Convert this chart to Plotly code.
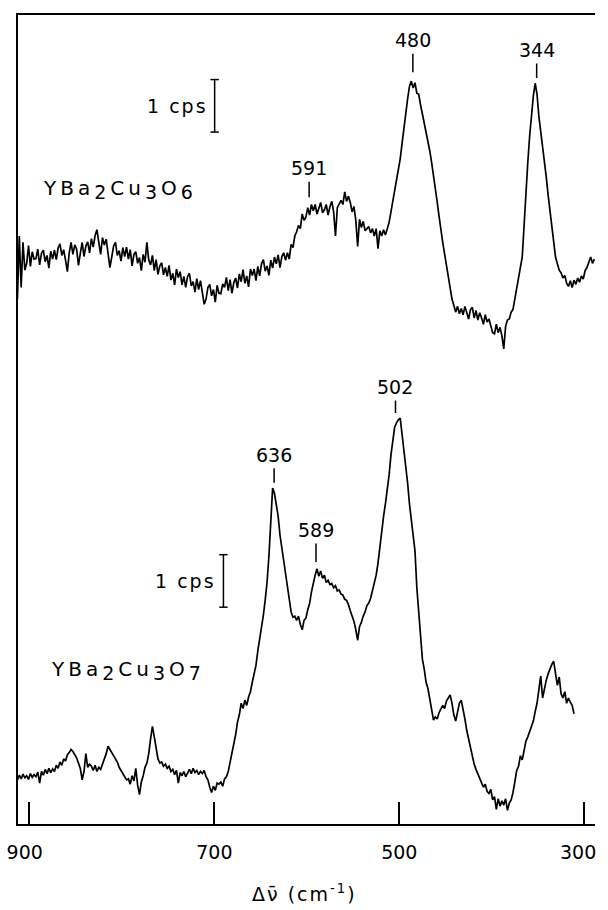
import plotly.graph_objects as go

# Raman spectra, intensity in cps, sampled every 2 cm-1 starting at 913 cm-1 (decreasing)
wavenumber_start = 913
wavenumber_step = -2

ybco6_cps = [
    1.50, 2.70, 1.72, 2.58, 2.05, 2.18, 2.52, 2.12, 2.40, 2.26,
    2.27, 2.45, 2.15, 2.37, 2.43, 2.21, 2.33, 2.09, 2.41, 2.26,
    2.43, 2.25, 2.47, 2.55, 2.33, 2.44, 2.24, 2.02, 2.38, 2.58,
    2.35, 2.53, 2.45, 2.14, 2.37, 2.58, 2.31, 2.51, 2.59, 2.38,
    2.65, 2.49, 2.71, 2.82, 2.58, 2.35, 2.67, 2.53, 2.64, 2.40,
    2.10, 2.30, 2.51, 2.58, 2.33, 2.42, 2.22, 2.48, 2.31, 2.49,
    2.26, 2.44, 2.13, 2.35, 2.40, 2.18, 2.29, 2.04, 2.35, 2.20,
    2.58, 2.24, 2.15, 2.33, 2.04, 2.25, 1.97, 2.13, 2.19, 1.96,
    2.10, 1.93, 2.14, 1.86, 1.99, 1.77, 2.07, 1.91, 2.02, 1.77,
    1.93, 1.72, 1.93, 1.99, 1.75, 1.83, 1.63, 1.89, 1.68, 1.85,
    1.62, 1.40, 1.50, 1.72, 1.78, 1.56, 1.68, 1.44, 1.76, 1.61,
    1.60, 1.79, 1.72, 1.91, 1.66, 1.87, 1.61, 1.81, 1.90, 1.71,
    1.98, 1.83, 2.06, 1.80, 1.94, 1.73, 2.07, 1.95, 2.07, 1.85,
    2.12, 1.94, 2.17, 2.25, 2.03, 2.13, 1.95, 2.24, 2.09, 2.30,
    2.17, 2.34, 2.10, 2.31, 2.38, 2.24, 2.38, 2.26, 2.54, 2.48,
    2.70, 2.78, 2.90, 2.84, 3.12, 3.00, 3.06, 3.24, 3.10, 3.30,
    3.18, 3.30, 3.12, 3.22, 3.34, 3.14, 3.20, 3.30, 3.10, 3.26,
    3.36, 3.16, 2.70, 3.24, 3.30, 3.38, 3.30, 3.54, 3.36, 3.46,
    3.34, 3.16, 3.26, 3.00, 2.50, 3.02, 2.86, 2.98, 2.80, 2.84,
    2.88, 2.76, 2.84, 2.70, 2.84, 2.46, 2.80, 2.70, 2.82, 2.72,
    2.84, 2.96, 3.16, 3.36, 3.52, 3.69, 3.92, 4.17, 4.46, 4.78,
    5.05, 5.31, 5.55, 5.65, 5.52, 5.62, 5.42, 5.40, 5.20, 5.02,
    4.88, 4.72, 4.52, 4.32, 4.10, 3.88, 3.62, 3.35, 3.08, 2.80,
    2.58, 2.36, 2.14, 1.92, 1.72, 1.50, 1.38, 1.25, 1.36, 1.22,
    1.32, 1.20, 1.36, 1.26, 1.12, 1.30, 1.34, 1.14, 1.28, 1.10,
    1.24, 1.14, 1.02, 1.20, 1.06, 1.12, 0.96, 0.86, 0.84, 1.02,
    0.86, 0.96, 0.80, 0.55, 0.98, 1.10, 1.12, 1.25, 1.30, 1.50,
    1.66, 1.82, 2.10, 2.30, 2.90, 3.60, 4.10, 4.60, 5.00, 5.37,
    5.61, 5.40, 4.98, 4.70, 4.45, 4.15, 3.82, 3.48, 3.16, 2.82,
    2.49, 2.30, 2.17, 2.05, 2.00, 1.90, 1.95, 1.80, 1.74, 1.85,
    1.72, 1.86, 1.78, 1.90, 1.82, 1.94, 1.88, 2.04, 2.10, 2.20,
    2.30, 2.18, 2.26,
]

ybco7_cps = [
    0.84, 0.93, 0.86, 0.95, 0.88, 0.92, 0.85, 0.96, 0.89, 0.94,
    0.90, 0.99, 0.78, 1.00, 0.93, 1.04, 0.96, 1.06, 0.98, 1.05,
    1.00, 1.12, 1.06, 1.18, 1.12, 1.24, 1.20, 1.32, 1.36, 1.42,
    1.38, 1.32, 1.26, 1.16, 1.06, 0.84, 1.00, 1.34, 1.08, 1.14,
    1.10, 1.02, 1.12, 1.00, 1.08, 1.04, 1.14, 1.20, 1.34, 1.48,
    1.42, 1.34, 1.30, 1.22, 1.18, 1.08, 1.02, 0.96, 0.90, 0.84,
    0.86, 0.76, 0.92, 0.82, 1.06, 0.74, 0.56, 0.80, 0.92, 1.08,
    1.16, 1.34, 1.62, 1.86, 1.66, 1.48, 1.24, 1.16, 1.18, 1.10,
    1.14, 1.06, 1.10, 1.00, 1.04, 0.94, 1.02, 0.78, 0.98, 0.92,
    1.00, 0.90, 0.98, 1.04, 0.96, 1.06, 0.98, 1.02, 0.94, 1.00,
    0.96, 1.02, 0.90, 0.84, 0.70, 0.60, 0.72, 0.64, 0.78, 0.76,
    0.80, 0.72, 0.86, 0.90, 1.00, 1.16, 1.36, 1.52, 1.70, 1.94,
    2.08, 2.30, 2.20, 2.36, 2.26, 2.42, 2.52, 2.70, 2.86, 3.02,
    3.30, 3.50, 3.73, 3.98, 4.27, 4.61, 5.10, 5.70, 6.40, 6.30,
    6.08, 5.86, 5.50, 5.26, 4.99, 4.78, 4.51, 4.23, 4.04, 3.94,
    3.96, 3.88, 3.96, 3.80, 3.70, 3.88, 3.92, 4.08, 4.20, 4.42,
    4.60, 4.74, 4.86, 4.72, 4.82, 4.68, 4.74, 4.60, 4.64, 4.56,
    4.58, 4.50, 4.54, 4.44, 4.46, 4.38, 4.36, 4.28, 4.26, 4.18,
    4.06, 3.96, 3.86, 3.70, 3.50, 3.76, 3.84, 3.96, 4.04, 4.16,
    4.21, 4.30, 4.46, 4.58, 4.74, 4.97, 5.30, 5.60, 5.86, 6.10,
    6.36, 6.65, 7.03, 7.35, 7.56, 7.64, 7.70, 7.73, 7.45, 7.12,
    6.86, 6.50, 6.10, 5.82, 5.50, 5.20, 4.50, 4.00, 3.50, 3.14,
    2.95, 2.70, 2.58, 2.36, 2.12, 1.98, 2.04, 2.00, 2.12, 2.18,
    2.26, 2.20, 2.34, 2.40, 2.46, 2.30, 2.08, 1.96, 2.14, 2.30,
    2.36, 2.20, 2.00, 1.78, 1.62, 1.42, 1.26, 1.14, 1.04, 0.96,
    0.88, 0.80, 0.70, 0.76, 0.62, 0.58, 0.66, 0.46, 0.52, 0.28,
    0.48, 0.34, 0.44, 0.36, 0.48, 0.26, 0.40, 0.46, 0.60, 0.80,
    1.02, 1.10, 1.30, 1.22, 1.44, 1.58, 1.66, 1.76, 1.86, 1.96,
    2.14, 2.30, 2.56, 2.82, 2.40, 2.60, 2.74, 2.86, 2.96, 3.04,
    3.10, 2.86, 2.64, 2.80, 2.48, 2.40, 2.52, 2.30, 2.40, 2.32,
    2.26, 2.10,
]

ybco6_offset = 8.5   # vertical stacking offset of the upper spectrum (cps)
ybco7_offset = 0.0

# peak labels: text, position (cm-1), tip height (cps, plotted)
ybco6_peak_text = ["591", "480", "344"]
ybco6_peak_pos = [597.5, 485.3, 351.4]
ybco6_peak_tip = [11.94, 14.32, 14.21]
ybco7_peak_text = ["636", "589", "502"]
ybco7_peak_pos = [635.4, 590.1, 504.1]
ybco7_peak_tip = [6.50, 4.99, 7.83]
peak_label_dist = {"591": -29, "480": -32, "344": -28, "636": -28, "589": -32, "502": -26}

x_tick_vals = [900, 700, 500, 300]
x_tick_text = ["900\u2002", "700", "500", "300\u2007"]

scale_bar_cps = 1.0

FONT = "DejaVu Sans"
BLACK = "black"
LW = 1.7

fig = go.Figure()

fig.add_trace(go.Scatter(
    x0=wavenumber_start, dx=wavenumber_step,
    y=[v + ybco6_offset for v in ybco6_cps],
    mode="lines", line=dict(color=BLACK, width=LW), hoverinfo="skip",
))
fig.add_trace(go.Scatter(
    x0=wavenumber_start, dx=wavenumber_step,
    y=[v + ybco7_offset for v in ybco7_cps],
    mode="lines", line=dict(color=BLACK, width=LW), hoverinfo="skip",
))

# 1 cps scale bars
for bx, by in [(699.7, 13.18), (690.2, 4.13)]:
    fig.add_trace(go.Scatter(
        x=[bx, bx], y=[by, by + scale_bar_cps], mode="lines+markers",
        line=dict(color=BLACK, width=1.5),
        marker=dict(symbol="line-ew", size=6, line=dict(color=BLACK, width=1.5)),
        hoverinfo="skip",
    ))
    fig.add_annotation(x=bx, y=by + scale_bar_cps / 2,
                       text="<span style='letter-spacing:2px'>1 cps</span>", showarrow=False,
                       xanchor="right", yanchor="middle", xshift=-5,
                       font=dict(family=FONT, size=19, color=BLACK))

for texts, poss, tips in [(ybco6_peak_text, ybco6_peak_pos, ybco6_peak_tip),
                          (ybco7_peak_text, ybco7_peak_pos, ybco7_peak_tip)]:
    for t, p, tip in zip(texts, poss, tips):
        fig.add_annotation(x=p, y=tip, text=t, showarrow=True, arrowhead=0,
                           arrowwidth=1.5, arrowcolor=BLACK, ax=0, ay=peak_label_dist[t],
                           borderpad=2, standoff=0,
                           font=dict(family=FONT, size=19, color=BLACK))


def formula(n):
    s = "<span style='font-size:19px'>%s</span>"
    return ("<span style='letter-spacing:4px'>YBa<sub>" + s % "2" + "</sub>Cu<sub>" + s % "3"
            + "</sub>O<sub>" + s % n + "</sub></span>")


fig.add_annotation(x=888.0, y=12.08, text=formula("6"), showarrow=False,
                   xanchor="left", yanchor="middle",
                   font=dict(family=FONT, size=20, color=BLACK))
fig.add_annotation(x=878.5, y=2.93, text=formula("7"), showarrow=False,
                   xanchor="left", yanchor="middle",
                   font=dict(family=FONT, size=20, color=BLACK))

fig.add_annotation(xref="paper", yref="paper", x=0.4966, y=0, yshift=-69,
                   text="<span style='letter-spacing:2px'>\u0394\u03bd\u0304 (cm<sup>-1</sup>)</span>",
                   showarrow=False, xanchor="center", yanchor="middle",
                   font=dict(family=FONT, size=19, color=BLACK))

fig.update_layout(
    width=608, height=910,
    margin=dict(l=18, r=0, t=15, b=86),
    paper_bgcolor="white", plot_bgcolor="white",
    showlegend=False,
    font=dict(family=FONT, size=19, color=BLACK),
    xaxis=dict(range=[912.4, 288.3], showline=True, linewidth=2, linecolor=BLACK,
               mirror=True, ticks="inside", ticklen=22, tickwidth=1.5, tickcolor=BLACK,
               tickvals=x_tick_vals, ticktext=x_tick_text, showgrid=False, zeroline=False,
               ticklabelstandoff=10, ticklabeloverflow="allow",
               tickfont=dict(family=FONT, size=19, color=BLACK)),
    yaxis=dict(range=[0, 15.41], showline=True, linewidth=2, linecolor=BLACK,
               ticks="", showticklabels=False, showgrid=False, zeroline=False),
)

fig.write_html("out.html", config={"displayModeBar": False},
               post_script="document.body.style.margin='0';document.body.style.padding='0';")
